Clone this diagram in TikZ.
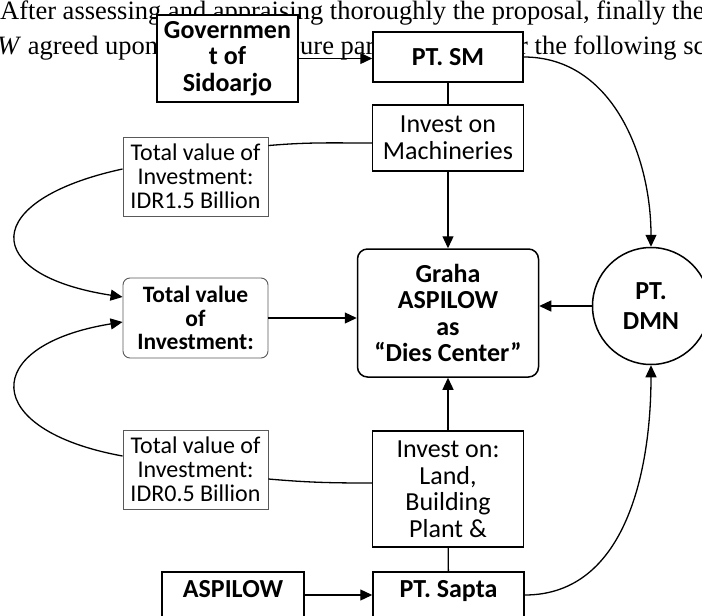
\documentclass[tikz,border=0pt]{standalone}
\usepackage{fontspec}
\setmainfont{Liberation Serif}
\newfontfamily\calfont{Carlito}
\usetikzlibrary{arrows.meta,shapes.geometric,positioning}

\begin{document}
\begin{tikzpicture}[
        x=1pt, y=-1pt,
        box/.style={rectangle, draw=black, line width=1.5pt, fill=white, text=black,
            inner sep=0pt, align=center,
            font=\calfont\bfseries\fontsize{26}{26.5}\selectfont},
        plainbox/.style={box, font=\calfont\fontsize{26}{26.5}\selectfont},
        greybox/.style={rectangle, draw=black!65, line width=0.9pt, fill=white, text=black,
            inner sep=0pt, align=center, minimum width=145pt,
            font=\calfont\fontsize{24}{24}\selectfont},
        line/.style={line width=1.3pt},
        arr/.style={line width=1.3pt, -{Triangle[length=12pt,width=11pt]}},
        page/.style={anchor=base west, inner sep=0pt, font=\fontsize{26.5}{30}\selectfont}
    ]
    \useasboundingbox (0,0) rectangle (702,616);

    \node[page] (lineone) at (0,19) {After assessing and appraising thoroughly the proposal, finally the};
    \node[page] (linetwoa) at (-3,54) {\textit{W} agreed upon};
    \node[page] (linetwob) at (300,54) {ure par};
    \node[page] (linetwoc) at (519,54) {r the following sc};

    \node[box, minimum width=141pt, minimum height=87pt] (gov) at (227.5,58.5) {Governmen\\t of\\Sidoarjo};
    \node[box, minimum width=150pt, minimum height=50pt] (sm) at (448,57) {PT. SM};
    \node[plainbox, minimum width=151pt, minimum height=66pt] (mach) at (448,138) {Invest on\\Machineries};
    \node[box, rounded corners=10pt, minimum width=181pt, minimum height=128pt] (graha) at (448,313) {Graha\\ASPILOW\\as\\“Dies Center”};
    \node[box, circle, minimum size=117pt, font=\calfont\bfseries\fontsize{26}{30}\selectfont] (dmn) at (651,306) {PT.\\DMN};

    \node[greybox, rounded corners=7pt, minimum height=80pt,
        font=\calfont\bfseries\fontsize{23.5}{23.5}\selectfont] (total) at (195.5,318) {Total value\\of\\Investment:};
    \node[greybox, minimum height=79pt] (tvone) at (195.5,176.5) {Total value of\\Investment:\\IDR1.5 Billion};
    \node[greybox, minimum height=79pt] (tvtwo) at (195.5,469.5) {Total value of\\Investment:\\IDR0.5 Billion};

    \node[plainbox, minimum width=151pt, minimum height=116pt] (land) at (448,489) {Invest on:\\Land,\\Building\\Plant \&};
    \node[box, anchor=north, minimum width=151pt, text height=26pt, text depth=40pt] (sapta) at (448.5,571) {PT. Sapta};
    \node[box, anchor=north, minimum width=142pt, text height=26pt, text depth=40pt] (aspilow) at (233,571) {ASPILOW};

    \draw[arr] (gov.east) -- (gov.east -| sm.west);
    \draw[line] (sm) -- (mach);
    \draw[arr] (mach) -- (graha);
    \draw[arr] (sm.east) to[out=0,in=90] (dmn.north);
    \draw[arr] (dmn.west) -- (dmn.west -| graha.east);
    \draw[arr] (land) -- (graha);
    \draw[line] (land) -- (sapta);
    \draw[arr] ([yshift=-24pt]aspilow.north east) -- ([yshift=-24pt]sapta.north west);
    \draw[arr] ([yshift=-24pt]sapta.north east) to[out=0,in=-90] (dmn.south);
    \draw[arr] (total.east) -- (total.east -| graha.west);

    \draw[line] ([yshift=-9pt]tvone.north east) to[out=5,in=180] ([yshift=-5pt]mach.west);
    \draw[line] ([yshift=-9.5pt]tvtwo.east) to[out=-5,in=180] ([yshift=6pt]land.west);
    \draw[arr] ([yshift=7.5pt]tvone.west) .. controls +(-143,31) and +(-143,-22) .. ([yshift=21pt]total.west);
    \draw[arr] ([yshift=13.5pt]tvtwo.west) .. controls +(-143,-26) and +(-143,23) .. ([yshift=-4pt]total.west);
\end{tikzpicture}
\end{document}
